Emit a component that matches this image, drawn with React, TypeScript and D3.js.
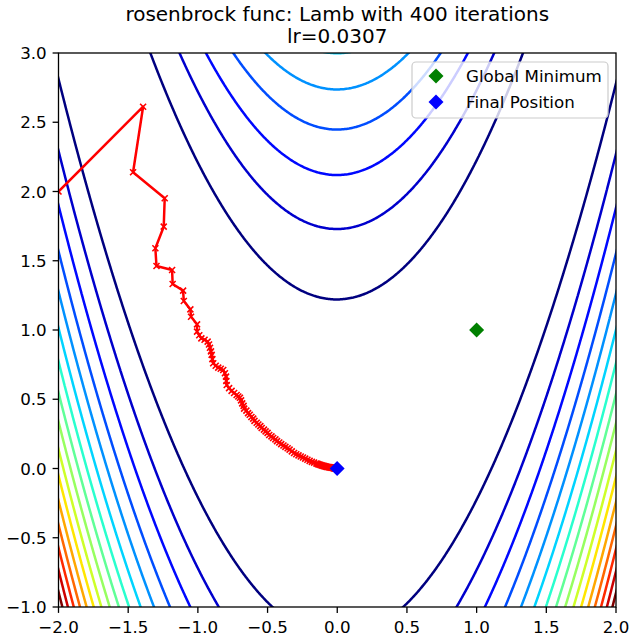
import React, { useMemo } from "react";
import * as d3 from "d3";

// contour levels of the Rosenbrock surface
const levels = [150, 300, 450, 600, 750, 900, 1050, 1200, 1350, 1500, 1650, 1800, 1950, 2100, 2250, 2400];

const xTicks = [-2, -1.5, -1, -0.5, 0, 0.5, 1, 1.5, 2];
const yTicks = [-1, -0.5, 0, 0.5, 1, 1.5, 2, 2.5, 3];

// optimizer trajectory (Lamb, lr=0.0307)
const pathX = [
  -2.0, -1.393, -1.465, -1.238, -1.245, -1.305, -1.297, -1.185, -1.181, -1.106,
  -1.101, -1.054, -1.049, -1.006, -1.006, -0.99, -0.975, -0.952, -0.93, -0.92,
  -0.913, -0.906, -0.901, -0.896, -0.89, -0.872, -0.854, -0.836, -0.818, -0.806,
  -0.798, -0.796, -0.793, -0.776, -0.758, -0.74, -0.722, -0.71, -0.698, -0.69,
  -0.682, -0.672, -0.668, -0.652, -0.64, -0.628, -0.616, -0.603, -0.594, -0.578,
  -0.566, -0.552, -0.542, -0.526, -0.514, -0.5, -0.488, -0.472, -0.46, -0.444,
  -0.432, -0.416, -0.402, -0.386, -0.372, -0.356, -0.342, -0.326, -0.31, -0.294,
  -0.278, -0.262, -0.246, -0.23, -0.214, -0.198, -0.182, -0.166, -0.15, -0.142,
  -0.135, -0.127, -0.12, -0.113, -0.106, -0.099, -0.093, -0.086, -0.08, -0.074,
  -0.068, -0.062, -0.057, -0.052, -0.047, -0.042, -0.038, -0.034, -0.03, -0.026,
  -0.023, -0.02, -0.017, -0.014, -0.012, -0.01, -0.008, -0.006, -0.005, -0.003,
  -0.002, -0.001,
];
const pathY = [
  2.0, 2.612, 2.139, 1.951, 1.746, 1.59, 1.462, 1.433, 1.332, 1.284,
  1.209, 1.149, 1.096, 1.041, 0.988, 0.962, 0.94, 0.93, 0.916, 0.895,
  0.872, 0.846, 0.82, 0.79, 0.76, 0.742, 0.728, 0.72, 0.711, 0.688,
  0.663, 0.632, 0.603, 0.58, 0.56, 0.545, 0.531, 0.52, 0.511, 0.492,
  0.47, 0.452, 0.432, 0.418, 0.4, 0.388, 0.372, 0.36, 0.344, 0.33,
  0.318, 0.306, 0.292, 0.281, 0.268, 0.257, 0.242, 0.232, 0.22, 0.21,
  0.198, 0.188, 0.176, 0.166, 0.156, 0.146, 0.136, 0.124, 0.112, 0.103,
  0.095, 0.087, 0.079, 0.071, 0.063, 0.055, 0.048, 0.042, 0.036, 0.033,
  0.03, 0.028, 0.025, 0.023, 0.021, 0.019, 0.017, 0.015, 0.014, 0.012,
  0.011, 0.01, 0.009, 0.008, 0.007, 0.006, 0.005, 0.005, 0.004, 0.003,
  0.003, 0.002, 0.002, 0.001, 0.001, 0.001, 0.001, 0.0, 0.0, 0.0,
  0.0, 0.0,
];

const globalMinimum = [1, 1];

const rosenbrock = (x: number, y: number) => (1 - x) ** 2 + 100 * (y - x * x) ** 2;

// matplotlib "jet" colormap
const jetR = d3.scaleLinear().domain([0, 0.35, 0.66, 0.89, 1]).range([0, 0, 1, 1, 0.5]);
const jetG = d3.scaleLinear().domain([0, 0.125, 0.375, 0.64, 0.91, 1]).range([0, 0, 1, 1, 0, 0]);
const jetB = d3.scaleLinear().domain([0, 0.11, 0.34, 0.65, 1]).range([0.5, 1, 1, 0, 0]);
const jet = (t: number) =>
  d3.rgb(jetR(t) * 255, jetG(t) * 255, jetB(t) * 255).formatHex();

const WIDTH = 635;
const HEIGHT = 643;
const margin = { top: 53, right: 19, bottom: 36, left: 58.5 };
const FONT = "DejaVu Sans, sans-serif";
const TICK = 5.9;

const fmt = (v: number) => d3.format(".1f")(v).replace("-", "\u2212");

export default function App() {
  const x = d3.scaleLinear().domain([-2, 2]).range([margin.left, WIDTH - margin.right]);
  const y = d3.scaleLinear().domain([-1, 3]).range([HEIGHT - margin.bottom, margin.top]);
  const color = d3.scaleLinear().domain(d3.extent(levels) as [number, number]).range([0, 1]);

  const contourPaths = useMemo(() => {
    // sample a bit past the axes so ring borders fall outside the clip
    const n = 440;
    const m = 440;
    const gx = d3.scaleLinear().domain([0, n]).range([-2.2, 2.2]);
    const gy = d3.scaleLinear().domain([0, m]).range([-1.2, 3.2]);
    const values = new Float64Array(n * m);
    for (let j = 0; j < m; j++) {
      for (let i = 0; i < n; i++) {
        values[j * n + i] = rosenbrock(gx(i + 0.5), gy(j + 0.5));
      }
    }
    const contours = d3.contours().size([n, m]).thresholds(levels)(Array.from(values));
    const path = d3.geoPath(
      d3.geoTransform({
        point(px: number, py: number) {
          this.stream.point(x(gx(px)), y(gy(py)));
        },
      })
    );
    return contours.map((c) => ({ level: c.value, d: path(c as any) || "" }));
  }, []);

  const line = d3
    .line<number>()
    .x((_, i) => x(pathX[i]))
    .y((_, i) => y(pathY[i]));

  const last = pathX.length - 1;
  const diamond = (cx: number, cy: number, r = 7.5) =>
    `M${cx},${cy - r}L${cx + r},${cy}L${cx},${cy + r}L${cx - r},${cy}Z`;

  const plotW = WIDTH - margin.left - margin.right;
  const plotH = HEIGHT - margin.top - margin.bottom;
  const bottom = HEIGHT - margin.bottom;

  return (
    <svg
      width={WIDTH}
      height={HEIGHT}
      style={{ position: "absolute", left: 0, top: 0, background: "#fff" }}
      fontFamily={FONT}
    >
      <defs>
        <clipPath id="plot-area">
          <rect x={margin.left} y={margin.top} width={plotW} height={plotH} />
        </clipPath>
      </defs>

      <text x={x(0)} y={21} textAnchor="middle" fontSize={20}>
        rosenbrock func: Lamb with 400 iterations
      </text>
      <text x={x(0)} y={43} textAnchor="middle" fontSize={20}>
        lr=0.0307
      </text>

      <g clipPath="url(#plot-area)">
        {contourPaths.map((c) => (
          <path key={c.level} d={c.d} fill="none" stroke={jet(color(c.level))} strokeWidth={2.5} />
        ))}
        <path d={line(pathX) || ""} fill="none" stroke="#ff0000" strokeWidth={2.5} strokeLinejoin="round" />
        {pathX.map((v, i) => (
          <path
            key={i}
            transform={`translate(${x(v)},${y(pathY[i])})`}
            d="M-3,-3L3,3M-3,3L3,-3"
            stroke="#ff0000"
            strokeWidth={1.6}
          />
        ))}
      </g>

      <path d={diamond(x(globalMinimum[0]), y(globalMinimum[1]))} fill="#008000" />
      <path d={diamond(x(pathX[last]), y(pathY[last]))} fill="#0000ff" />

      {/* axes frame */}
      <rect x={margin.left} y={margin.top} width={plotW} height={plotH} fill="none" stroke="#000" strokeWidth={1.3} />

      {xTicks.map((t) => (
        <g key={`x${t}`} transform={`translate(${x(t)},0)`}>
          <line y1={bottom} y2={bottom + TICK} stroke="#000" strokeWidth={1.3} />
          <text y={bottom + 26} textAnchor="middle" fontSize={16.7}>
            {fmt(t)}
          </text>
        </g>
      ))}
      {yTicks.map((t) => (
        <g key={`y${t}`} transform={`translate(0,${y(t)})`}>
          <line x1={margin.left - TICK} x2={margin.left} stroke="#000" strokeWidth={1.3} />
          <text x={margin.left - 2 * TICK} dy="0.36em" textAnchor="end" fontSize={16.7}>
            {fmt(t)}
          </text>
        </g>
      ))}

      {/* legend */}
      <g>
        <rect x={412} y={62} width={196} height={56} rx={4} fill="#fff" fillOpacity={0.8} stroke="#cccccc" strokeWidth={1.2} />
        <path d={diamond(436, 76)} fill="#008000" />
        <text x={466} y={82} fontSize={16.7}>Global Minimum</text>
        <path d={diamond(436, 102)} fill="#0000ff" />
        <text x={466} y={108} fontSize={16.7}>Final Position</text>
      </g>
    </svg>
  );
}
